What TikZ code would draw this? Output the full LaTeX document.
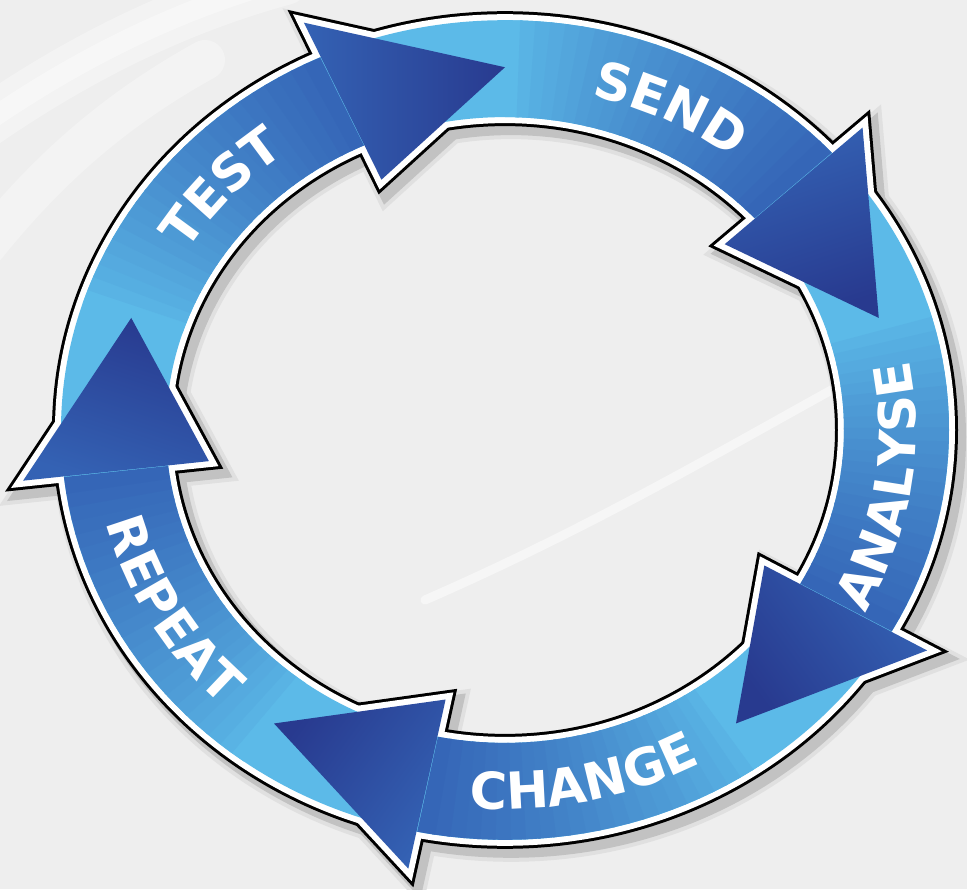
\documentclass[tikz,border=0pt]{standalone}
\usepackage{fontspec}
\newfontfamily\labfont{DejaVu Sans}
\newcommand\labstyle{\labfont\bfseries\fontsize{14.5}{17}\selectfont\color{white}}
\usetikzlibrary{decorations.text}

\definecolor{bggray}{HTML}{EEEEEE}
\definecolor{bandlight}{HTML}{5CBAE8}
\definecolor{shaftdark}{HTML}{3566B7}
\definecolor{headback}{HTML}{3462B4}
\definecolor{headtip}{HTML}{283A8F}

\tikzset{labelpath/.style={decorate,decoration={text along path,text={|\labstyle|#1},text align=center}}}

%outline of ring plus the five heads
\newcommand\cycleoutline[1]{%
\draw[#1] (0,0) circle (4.44) (0,0) circle (3.39);
\foreach \k in {0,...,4}{\draw[#1,line join=miter] (bo\k) -- (tip\k) -- (bi\k) -- cycle;}
}

\begin{document}
\begin{tikzpicture}
\tikzstyle{swoosh}=[white,line cap=round]
\useasboundingbox (-5.05,-4.59) rectangle (4.62,4.30);
\fill[bggray] (-5.05,-4.59) rectangle (4.62,4.30);

%background swooshes
\draw[swoosh,line width=5mm,opacity=0.3] (-5.3,3.0) .. controls (-4.3,3.7) and (-3.3,4.2) .. (-2.2,4.5);
\draw[swoosh,line width=2mm,opacity=0.4] (-5.3,3.0) .. controls (-4.3,3.7) and (-3.3,4.2) .. (-2.2,4.5);
\draw[swoosh,line width=4mm,opacity=0.3] (-5.3,1.7) .. controls (-4.6,2.6) and (-3.9,3.2) .. (-3.0,3.7);
\draw[swoosh,line width=0.9mm,opacity=0.5] (-0.8,-1.7) .. controls (0.8,-1.0) and (2.0,-0.3) .. (3.3,0.42);

\begin{scope}[yscale=0.923]
%arrow corners
\foreach \k in {0,...,4}{
\pgfmathsetmacro\tipang{90-72*\k}
\coordinate (tip\k) at (\tipang:3.93);
\coordinate (bo\k) at ({\tipang+24.5}:4.85);
\coordinate (bi\k) at ({\tipang+24.5}:2.98);
}

%shadow
\begin{scope}[transform canvas={xshift=0.6mm,yshift=-0.7mm}]
\cycleoutline{draw=black!12,line width=3.0mm}
\cycleoutline{draw=black!24,line width=2.2mm}
\end{scope}

%black and white rim
\cycleoutline{draw=black,line width=1.8mm}
\cycleoutline{draw=white,line width=1.2mm}

%band
\fill[bandlight,even odd rule] (0,0) circle (4.44) (0,0) circle (3.39);
\foreach \k in {0,...,4}{
\foreach \i in {0,...,23}{
\pgfmathsetmacro\a{90-72*\k+72-47*\i/24}
\pgfmathsetmacro\b{\a-47/24-0.4}
\pgfmathtruncatemacro\p{100*(\i/23)^0.8}
\fill[shaftdark!\p!bandlight] (\a:4.44) arc[start angle=\a,end angle=\b,radius=4.44] -- (\b:3.39) arc[start angle=\b,end angle=\a,radius=3.39] -- cycle;
}
}

%heads
\foreach \k in {0,...,4}{
\pgfmathsetmacro\tipang{90-72*\k}
\shade[top color=headtip,bottom color=headback,shading angle={\tipang-180}] (bo\k) -- (tip\k) -- (bi\k) -- cycle;
}
\end{scope}

%labels
\path[labelpath=TEST] ({3.72*cos(170)},{0.923*3.72*sin(170)}) arc[start angle=170,end angle=106,x radius=3.72,y radius=3.434];
\path[labelpath=SEND] ({3.72*cos(96)},{0.923*3.72*sin(96)}) arc[start angle=96,end angle=32,x radius=3.72,y radius=3.434];
\path[labelpath=ANALYSE] ({4.11*cos(-41)},{0.923*4.11*sin(-41)}) arc[start angle=-41,end angle=23,x radius=4.11,y radius=3.794];
\path[labelpath=CHANGE] ({4.11*cos(-110)},{0.923*4.11*sin(-110)}) arc[start angle=-110,end angle=-46,x radius=4.11,y radius=3.794];
\path[labelpath=REPEAT] ({4.11*cos(178)},{0.923*4.11*sin(178)}) arc[start angle=178,end angle=242,x radius=4.11,y radius=3.794];
\end{tikzpicture}
\end{document}
